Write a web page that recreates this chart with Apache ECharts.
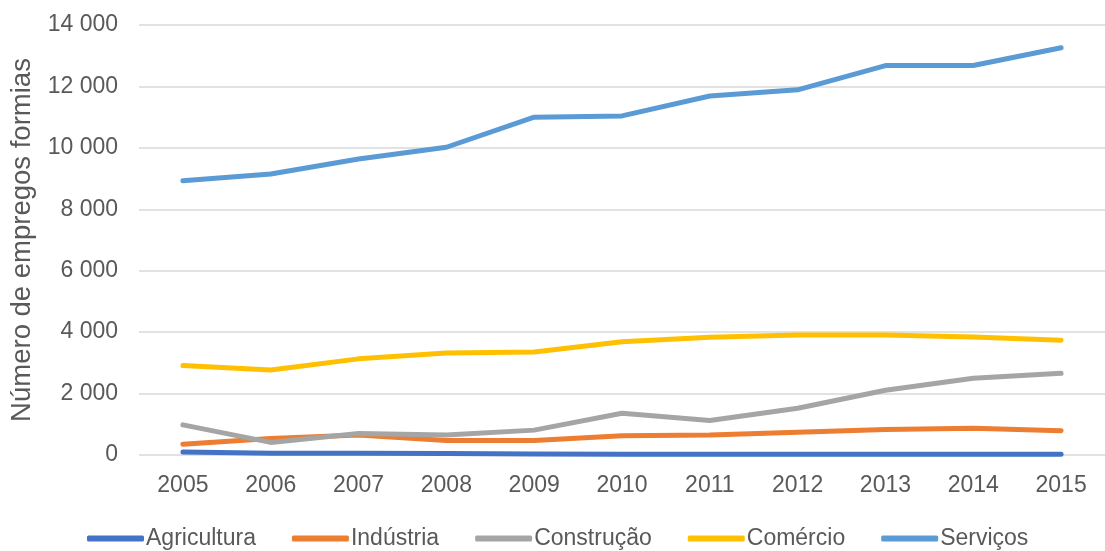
<!DOCTYPE html>
<html><head><meta charset="utf-8">
<script src="https://cdn.jsdelivr.net/npm/echarts@6/dist/echarts.min.js"></script>
<style>html,body{margin:0;padding:0;background:#fff}#c{width:1105px;height:551px}</style>
</head><body><div id="c"></div>
<script>
const years = ['2005','2006','2007','2008','2009','2010','2011','2012','2013','2014','2015'];
const agricultura = [100, 60, 60, 50, 30, 25, 25, 25, 25, 25, 25];
const industria = [350, 540, 650, 470, 470, 630, 650, 740, 830, 870, 790];
const construcao = [980, 410, 700, 650, 810, 1360, 1120, 1520, 2110, 2500, 2660];
const comercio = [2910, 2770, 3130, 3320, 3350, 3690, 3830, 3910, 3910, 3840, 3740];
const servicos = [8930, 9150, 9640, 10020, 11000, 11040, 11690, 11890, 12680, 12680, 13260];
const seriesNames = ['Agricultura','Indústria','Construção','Comércio','Serviços'];
const colors = ['#4472C4','#ED7D31','#A5A5A5','#FFC000','#5B9BD5'];
const dataSets = [agricultura, industria, construcao, comercio, servicos];

const chart = echarts.init(document.getElementById('c'));
const font = 'Liberation Sans, Arial, sans-serif';
chart.setOption({
  animation: false,
  color: colors,
  grid: {left: 139, top: 25, width: 970, height: 430, containLabel: false},
  legend: {
    data: seriesNames, top: 522, left: 82, itemWidth: 57, itemHeight: 6, itemGap: 36,
    icon: 'roundRect',
    textStyle: {fontFamily: font, fontSize: 23, color: '#595959', padding: [0,0,0,-3]}
  },
  xAxis: {
    type: 'category', data: years, boundaryGap: true,
    axisLine: {show: false}, axisTick: {show: false},
    axisLabel: {fontFamily: font, fontSize: 23, color: '#595959', margin: 19}
  },
  yAxis: {
    type: 'value', min: 0, max: 14000, interval: 2000,
    name: 'Número de empregos formias', nameLocation: 'middle', nameGap: 101, nameRotate: 90,
    nameTextStyle: {fontFamily: font, fontSize: 27.5, color: '#595959'},
    axisLabel: {fontFamily: font, fontSize: 23, color: '#595959', margin: 21,
      formatter: v => v >= 1000 ? Math.floor(v/1000) + ' ' + String(v%1000).padStart(3,'0') : String(v)},
    splitLine: {lineStyle: {color: '#D9D9D9', width: 1.5}}
  },
  series: dataSets.map((d, i) => ({
    name: seriesNames[i], type: 'line', data: d, showSymbol: false, symbol: 'none',
    lineStyle: {width: 5, color: colors[i], cap: 'round', join: 'round'}
  }))
});
</script></body></html>
